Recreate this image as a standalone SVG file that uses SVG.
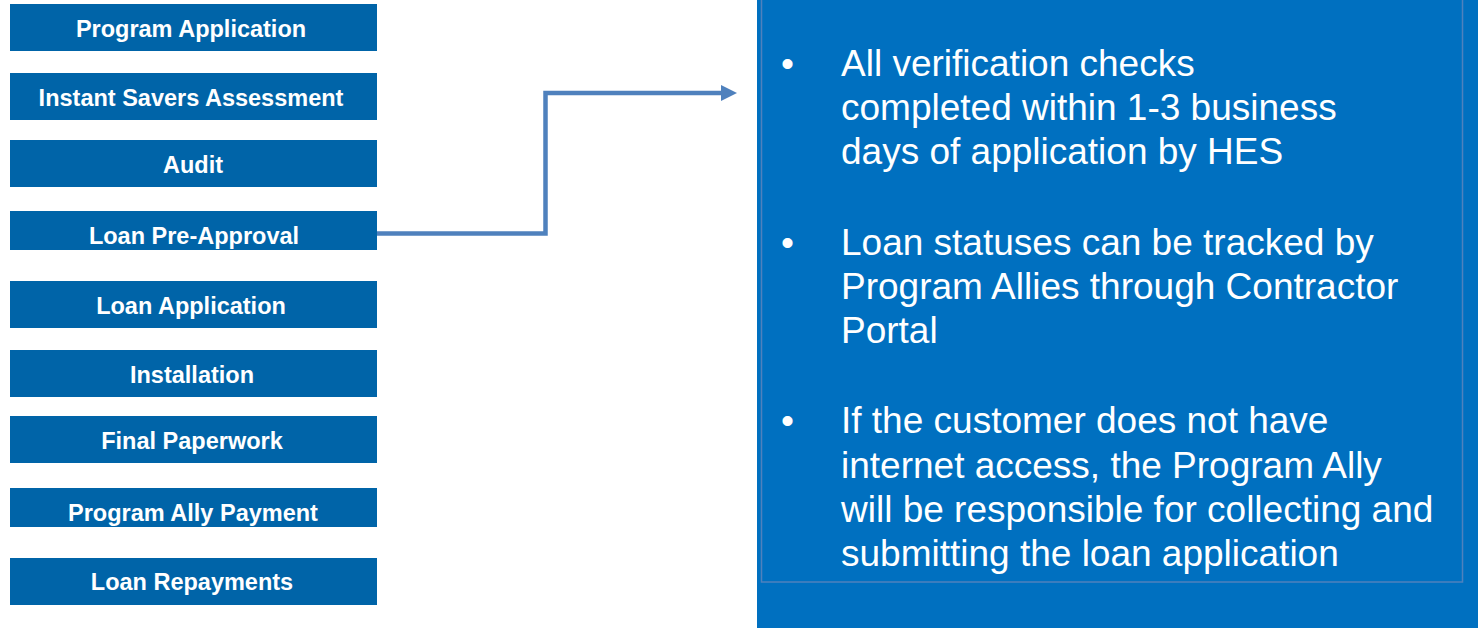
<svg xmlns="http://www.w3.org/2000/svg" width="1478" height="628" viewBox="0 0 1478 628">
<style>
.box{fill:#0064A8}
.lbl{font-family:"Liberation Sans",Arial,sans-serif;font-weight:bold;font-size:23.5px;fill:#ffffff;text-anchor:middle}
.body{font-family:"Liberation Sans",Arial,sans-serif;font-size:37px;fill:#ffffff}
.conn{fill:none;stroke:#4F81BD;stroke-width:4.5}
</style>
<defs>
<marker id="ah" markerUnits="userSpaceOnUse" markerWidth="18" markerHeight="18" refX="0" refY="8" orient="auto" viewBox="0 0 18 16">
<path d="M0,0 L16,8 L0,16 Z" fill="#4F81BD"/>
</marker>
</defs>
<rect width="1478" height="628" fill="#ffffff"/>
<g id="panel">
<rect x="757" y="0" width="721" height="628" fill="#0070C0"/>
<rect x="761.5" y="-5" width="701" height="587" fill="none" stroke="#4F81BD" stroke-width="1.5"/>
<text class="body" x="781" y="76">•</text>
<text class="body" x="841" y="76">All verification checks</text>
<text class="body" x="841" y="120">completed within 1-3 business</text>
<text class="body" x="841" y="164">days of application by HES</text>
<text class="body" x="781" y="255">•</text>
<text class="body" x="841" y="255">Loan statuses can be tracked by</text>
<text class="body" x="841" y="299">Program Allies through Contractor</text>
<text class="body" x="841" y="343">Portal</text>
<text class="body" x="781" y="433">•</text>
<text class="body" x="841" y="433">If the customer does not have</text>
<text class="body" x="841" y="478">internet access, the Program Ally</text>
<text class="body" x="841" y="522">will be responsible for collecting and</text>
<text class="body" x="841" y="566">submitting the loan application</text>
</g>
<g id="n1"><rect class="box" x="10" y="4" width="367" height="47"/><text class="lbl" x="191" y="36.5">Program Application</text></g>
<g id="n2"><rect class="box" x="10" y="73" width="367" height="47"/><text class="lbl" x="191" y="106">Instant Savers Assessment</text></g>
<g id="n3"><rect class="box" x="10" y="140" width="367" height="47"/><text class="lbl" x="193" y="172.5">Audit</text></g>
<g id="n4"><rect class="box" x="10" y="211" width="367" height="39"/><text class="lbl" x="194" y="243.5">Loan Pre-Approval</text></g>
<g id="n5"><rect class="box" x="10" y="281" width="367" height="47"/><text class="lbl" x="191" y="313.5">Loan Application</text></g>
<g id="n6"><rect class="box" x="10" y="350" width="367" height="47"/><text class="lbl" x="192" y="382.5">Installation</text></g>
<g id="n7"><rect class="box" x="10" y="416" width="367" height="47"/><text class="lbl" x="192" y="448.5">Final Paperwork</text></g>
<g id="n8"><rect class="box" x="10" y="488" width="367" height="39"/><text class="lbl" x="193" y="520.5">Program Ally Payment</text></g>
<g id="n9"><rect class="box" x="10" y="558" width="367" height="47"/><text class="lbl" x="192" y="590">Loan Repayments</text></g>
<g id="connectors">
<path class="conn" d="M377,233.5 H545.5 V93 H721" marker-end="url(#ah)"/>
</g>
</svg>
